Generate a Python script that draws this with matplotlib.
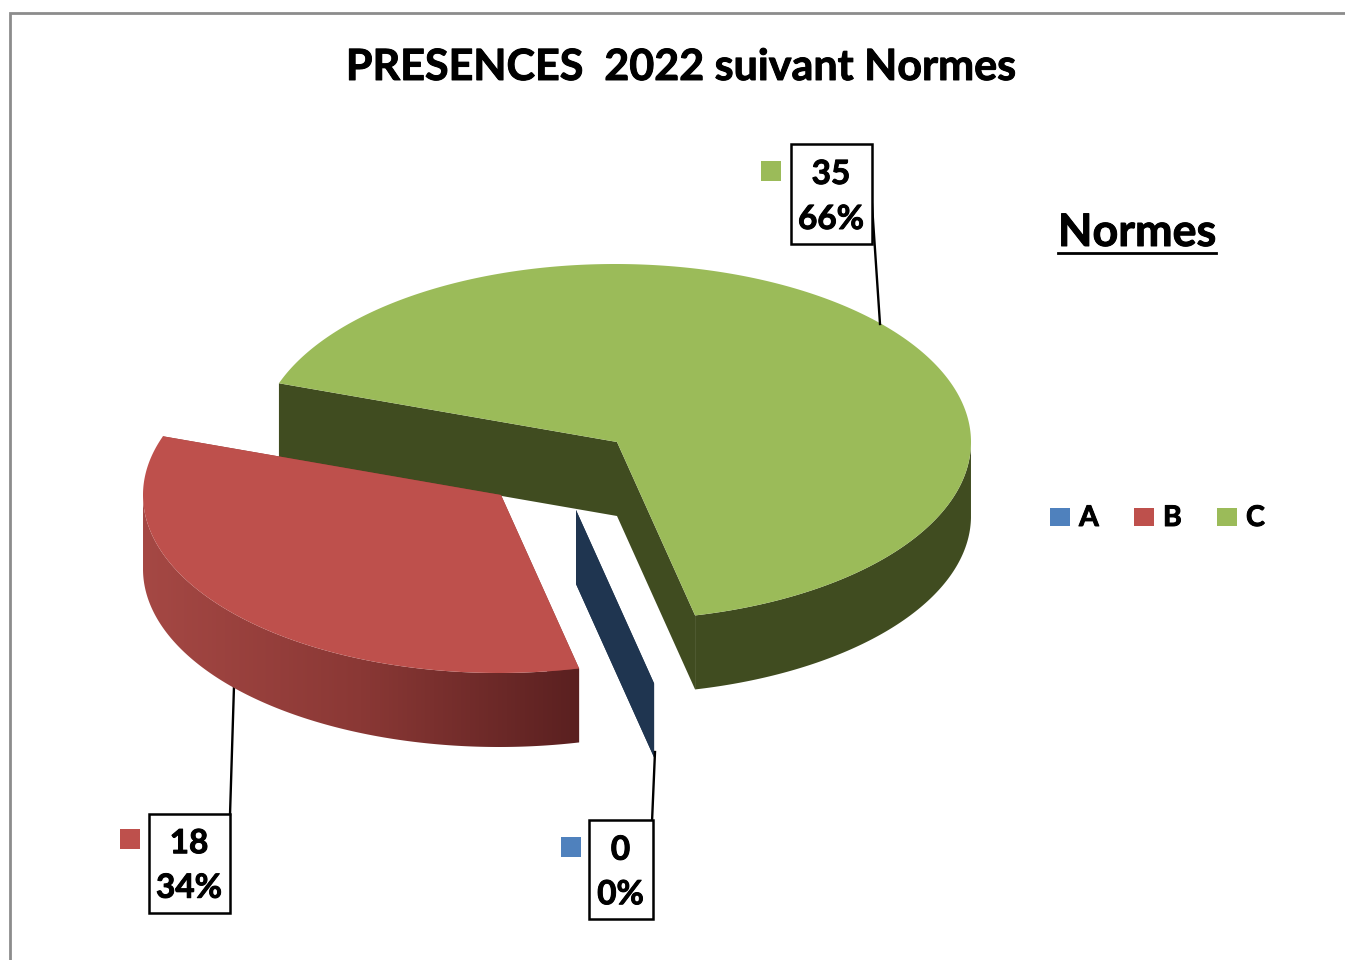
import numpy as np
import matplotlib
matplotlib.use('Agg')
import matplotlib.pyplot as plt
from matplotlib.patches import Polygon, Rectangle
from matplotlib.colors import LinearSegmentedColormap
import matplotlib.patheffects as pe

categories = ['A', 'B', 'C']
values = [0, 18, 35]
percent_labels = ['0%', '34%', '66%']
title = 'PRESENCES  2022 suivant Normes'
legend_title = 'Normes'

top_cols = ['#4f81bd', '#be504c', '#9bbb59']
wall_cols = ['#1f3550', '#8f3a37', '#404c20']

plt.rcParams['font.family'] = ['Lato', 'DejaVu Sans']

# pixel coordinates, y going down
fig = plt.figure(figsize=(13.45, 9.6), dpi=100)
ax = fig.add_axes([0, 0, 1, 1])

# frame
ax.plot([9.5, 9.5, 1345], [960, 13, 13], c='#8c8c8c', lw=2, solid_joinstyle='miter')

rx, ry, depth = 356, 178, 74
start = 167.0
centers = {'A': (576, 510), 'B': (501, 495), 'C': (617, 442)}
red_wall = LinearSegmentedColormap.from_list('red_wall', ['#a54844', '#8a3835', '#5a2020'])
bold = [pe.withStroke(linewidth=0.7, foreground='k')]


def rim(cx, cy, t):
    t = np.radians(t)
    return cx - 2 + rx * np.sin(t), cy - ry * np.cos(t)


def draw_slice(name, t0, t1, col, wall, z):
    cx, cy = centers[name]
    ts = np.linspace(t0, t1, 300)
    xs, ys = rim(cx, cy, ts)
    x1, y1 = xs[-1], ys[-1]
    x0, y0 = xs[0], ys[0]
    # cut walls
    ax.add_patch(Polygon([(x1, y1), (cx, cy), (cx, cy + depth), (x1, y1 + depth)], fc=wall, ec='none', zorder=z))
    ax.add_patch(Polygon([(cx, cy), (x0, y0), (x0, y0 + depth), (cx, cy + depth)], fc=wall, ec='none', zorder=z))
    # outer wall, only the part which faces the viewer
    front = (ts % 360 > 90) & (ts % 360 < 270)
    if front.any():
        xf, yf = xs[front], ys[front]
        pts = np.r_[np.column_stack([xf, yf]), np.column_stack([xf, yf + depth])[::-1]]
        if name == 'B':
            poly = Polygon(pts, fc='none', ec='none', transform=ax.transData)
            ax.add_patch(poly)
            g = np.linspace(0, 1, 256).reshape(1, -1)
            im = ax.imshow(g, cmap=red_wall, extent=(xf.min(), xf.max(), yf.max() + depth, yf.min()),
                           aspect='auto', zorder=z)
            im.set_clip_path(poly)
        else:
            ax.add_patch(Polygon(pts, fc=wall, ec='none', zorder=z))
    if t1 > t0:
        ax.add_patch(Polygon(np.column_stack([np.r_[cx, xs], np.r_[cy, ys]]), fc=col, ec='none', zorder=z + 0.5))


total = sum(values)
angle = start
spans = {}
for name, v in zip(categories, values):
    spans[name] = (angle, angle + v / total * 360)
    angle += v / total * 360

for z, name in enumerate(['C', 'B', 'A']):
    i = categories.index(name)
    draw_slice(name, spans[name][0], spans[name][1], top_cols[i], wall_cols[i], z + 1)

# leader lines
ax.plot([871, 880], [190, 324], c='k', lw=1.7, zorder=6)
ax.plot([234, 230], [686, 815], c='k', lw=1.7, zorder=0.5)
ax.plot([655, 652], [752, 822], c='k', lw=1.7, zorder=6)

# data labels
boxes = {'C': (790.5, 144, 81, 100), 'B': (148.5, 813.5, 81, 99), 'A': (588.5, 820, 64, 99)}
keys = {'C': (761, 161), 'B': (120, 829), 'A': (561, 837)}
for i, name in enumerate(categories):
    x, y, w, h = boxes[name]
    ax.add_patch(Rectangle((x, y), w, h, fc='white', ec='k', lw=1.8, zorder=7))
    ax.text(x + w / 2, y + h * 0.305, str(values[i]), fontsize=24, fontweight='bold', ha='center', va='center',
            zorder=8, path_effects=bold)
    ax.text(x + w / 2, y + h * 0.755, percent_labels[i], fontsize=24, fontweight='bold', ha='center', va='center',
            zorder=8, path_effects=bold)
    ax.add_patch(Rectangle(keys[name], 20, 20, fc=top_cols[i], ec='none', zorder=8))

ax.text(681, 67, title, fontsize=31, fontweight='bold', ha='center', va='center', path_effects=bold)

# legend
ax.text(1137, 233, legend_title, fontsize=32.3, fontweight='bold', ha='center', va='center', path_effects=bold)
ax.plot([1058, 1216], [252.5, 252.5], c='k', lw=2)
for x, name, col in zip([1050, 1134, 1217], categories, top_cols):
    ax.add_patch(Rectangle((x, 508), 20, 18, fc=col, ec='none'))
    ax.text(x + 29, 518, name, fontsize=20.5, fontweight='bold', ha='left', va='center', path_effects=bold)

ax.set_xlim(0, 1345)
ax.set_ylim(960, 0)
ax.axis('off')

plt.savefig('out.png', dpi=100)
